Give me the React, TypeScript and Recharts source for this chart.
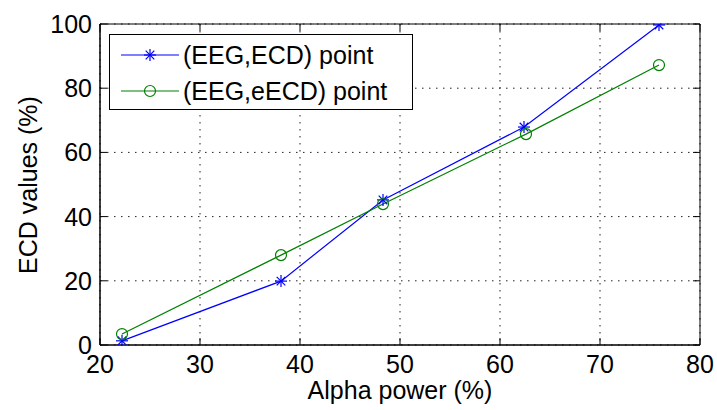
import React from 'react';
import { LineChart, Line, XAxis, YAxis, CartesianGrid, ReferenceArea, Legend } from 'recharts';

const alphaEcd = [22.2, 38.1, 48.3, 62.4, 75.9];
const ecdValues = [1.3, 19.9, 45.2, 67.9, 99.7];
const alphaEecd = [22.2, 38.1, 48.3, 62.6, 75.9];
const eecdValues = [3.4, 28.0, 43.9, 65.7, 87.2];
const xTicks = [20, 30, 40, 50, 60, 70, 80];
const yTicks = [0, 20, 40, 60, 80, 100];
const seriesNames = ['(EEG,ECD) point', '(EEG,eECD) point'];
const xLabel = 'Alpha power (%)';
const yLabel = 'ECD values (%)';

const ecdData = alphaEcd.map((x, i) => ({ x, y: ecdValues[i] }));
const eecdData = alphaEecd.map((x, i) => ({ x, y: eecdValues[i] }));

const W = 717;
const H = 410;
const M = { top: 24, right: 17, bottom: 0, left: 0 };
const PLOT_H = 321;
const PLOT_W = 600;
const FONT = '"Liberation Sans", Arial, sans-serif';
const BLUE = '#0000ff';
const GREEN = '#008000';

const XTick = (props: any) => {
  const { x, y, payload } = props;
  return (
    <g>
      <line x1={x} y1={y} x2={x} y2={y - 7} stroke="#000" strokeWidth={1} />
      <line x1={x} y1={y - PLOT_H} x2={x} y2={y - PLOT_H + 7} stroke="#000" strokeWidth={1} />
      <text x={x} y={y + 28} textAnchor="middle" fontFamily={FONT} fontSize={25} fill="#000">
        {payload.value}
      </text>
    </g>
  );
};

const YTick = (props: any) => {
  const { x, y, payload } = props;
  return (
    <g>
      <line x1={x} y1={y} x2={x + 7} y2={y} stroke="#000" strokeWidth={1} />
      <line x1={x + PLOT_W} y1={y} x2={x + PLOT_W - 7} y2={y} stroke="#000" strokeWidth={1} />
      <text x={x - 8} y={y + 9} textAnchor="end" fontFamily={FONT} fontSize={25} fill="#000">
        {payload.value}
      </text>
    </g>
  );
};

const StarDot = (props: any) => {
  const { cx, cy } = props;
  if (cx == null || cy == null) return null;
  const r = 6;
  const d = 4.3;
  return (
    <g stroke={BLUE} strokeWidth={1.2}>
      <line x1={cx} y1={cy - r} x2={cx} y2={cy + r} />
      <line x1={cx - r} y1={cy} x2={cx + r} y2={cy} />
      <line x1={cx - d} y1={cy - d} x2={cx + d} y2={cy + d} />
      <line x1={cx - d} y1={cy + d} x2={cx + d} y2={cy - d} />
    </g>
  );
};

const CircleDot = (props: any) => {
  const { cx, cy } = props;
  if (cx == null || cy == null) return null;
  return <circle cx={cx} cy={cy} r={5.5} fill="none" stroke={GREEN} strokeWidth={1.2} />;
};

const LegendBox = () => (
  <div
    style={{
      width: 304,
      height: 76,
      boxSizing: 'border-box',
      border: '1px solid #000',
      background: '#fff',
      fontFamily: FONT,
      fontSize: 25,
      color: '#000',
      position: 'relative',
    }}
  >
    {[0, 1].map((i) => (
      <div key={i} style={{ position: 'absolute', left: 0, top: i === 0 ? 2 : 38, height: 36, width: 300 }}>
        <svg width={70} height={36} style={{ position: 'absolute', left: 0, top: 0 }}>
          <line x1={11} y1={18} x2={69} y2={18} stroke={i === 0 ? BLUE : GREEN} strokeWidth={1.2} />
          {i === 0 ? <StarDot cx={40} cy={18} /> : <CircleDot cx={40} cy={18} />}
        </svg>
        <span style={{ position: 'absolute', left: 73, top: 3, lineHeight: '30px', whiteSpace: 'nowrap' }}>
          {seriesNames[i]}
        </span>
      </div>
    ))}
  </div>
);

export default function App() {
  return (
    <div style={{ position: 'absolute', left: 0, top: 0, width: W, height: H, background: '#fff' }}>
      <LineChart width={W} height={H} margin={M}>
        <CartesianGrid stroke="#222" strokeDasharray="1.5 5.5" horizontalPoints={undefined} />
        <XAxis
          type="number"
          dataKey="x"
          domain={[20, 80]}
          ticks={xTicks}
          height={65}
          tickSize={0}
          tickMargin={0}
          tickLine={false}
          axisLine={{ stroke: '#000' }}
          tick={<XTick />}
          allowDataOverflow
          interval={0}
        />
        <YAxis
          type="number"
          dataKey="y"
          domain={[0, 100]}
          ticks={yTicks}
          width={100}
          tickSize={0}
          tickMargin={0}
          tickLine={false}
          axisLine={{ stroke: '#000' }}
          tick={<YTick />}
          allowDataOverflow
          interval={0}
        />
        <ReferenceArea x1={20} x2={80} y1={0} y2={100} fill="none" stroke="#000" strokeWidth={1} ifOverflow="visible" />
        <Line
          data={ecdData}
          dataKey="y"
          name={seriesNames[0]}
          stroke={BLUE}
          strokeWidth={1.2}
          dot={<StarDot />}
          activeDot={false}
          isAnimationActive={false}
        />
        <Line
          data={eecdData}
          dataKey="y"
          name={seriesNames[1]}
          stroke={GREEN}
          strokeWidth={1.2}
          dot={<CircleDot />}
          activeDot={false}
          isAnimationActive={false}
        />
        <Legend
          layout="vertical"
          align="center"
          verticalAlign="middle"
          content={() => <LegendBox />}
          wrapperStyle={{ position: 'absolute', left: 109, top: 34, width: 304, height: 76 }}
        />
      </LineChart>
      <div
        style={{
          position: 'absolute',
          left: 0,
          top: 0,
          width: W,
          height: H,
          pointerEvents: 'none',
        }}
      >
        <svg width={W} height={H}>
          <text x={400} y={399} textAnchor="middle" fontFamily={FONT} fontSize={25} fill="#000">
            {xLabel}
          </text>
          <text
            x={37}
            y={185}
            textAnchor="middle"
            fontFamily={FONT}
            fontSize={25}
            fill="#000"
            transform="rotate(-90 37 185)"
          >
            {yLabel}
          </text>
        </svg>
      </div>
    </div>
  );
}
